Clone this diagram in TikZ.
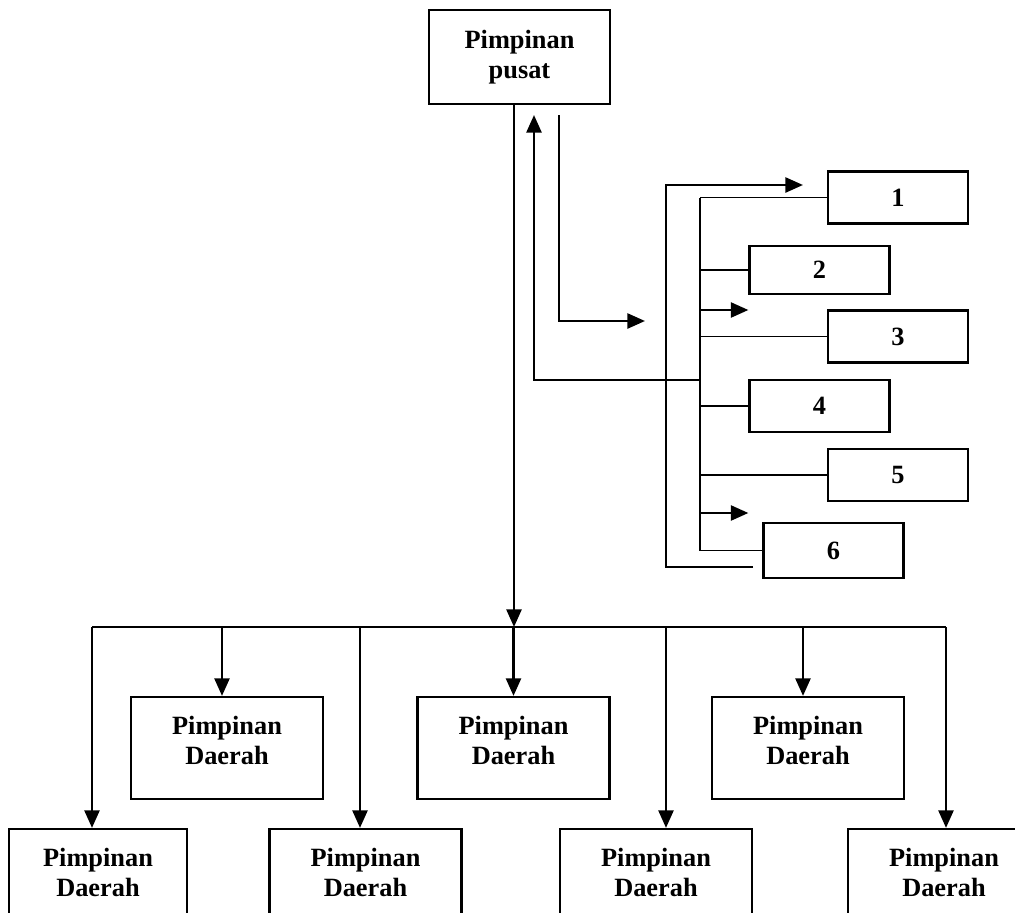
\documentclass[tikz,border=0pt]{standalone}
\usepackage{fontspec}
\setmainfont{Liberation Serif}
\usetikzlibrary{arrows.meta, positioning}

\newcommand{\daerah}{Pimpinan\\Daerah\\[-8pt]}

\begin{document}
\begin{tikzpicture}[
        x=0.02cm, y=-0.02cm,
        unit/.style={draw, line width=1.25pt, minimum width=3.84cm, minimum height=2.04cm, align=center, inner sep=0pt, font=\fontsize{15}{17}\selectfont\bfseries},
        num/.style={draw, line width=1.25pt, minimum width=2.8cm, minimum height=1.04cm, inner sep=0pt, font=\fontsize{15}{17}\selectfont\bfseries},
        arrow/.style={-{Triangle[length=10pt,width=8.5pt]}, line width=1.5pt},
        link/.style={line width=1.1pt}
    ]
        \useasboundingbox (0,0) rectangle (1015,913);
        \clip (0,0) rectangle (1015,913);

        % Central office
        \node[unit, minimum width=3.62cm, minimum height=1.88cm] (pusat) at (519.5,57) {Pimpinan\\pusat};

        % Numbered units
        \node[num] (n1) at (898,197.5) {1};
        \node[num, minimum height=0.96cm] (n2) at (819.5,270) {2};
        \node[num] (n3) at (898,336.5) {3};
        \node[num] (n4) at (819.5,406) {4};
        \node[num] (n5) at (898,475) {5};
        \node[num, minimum height=1.1cm] (n6) at (833.5,550.5) {6};

        % Regional offices
        \node[unit] (dA) at (227,748) {\daerah};
        \node[unit] (dB) at (513.5,748) {\daerah};
        \node[unit] (dC) at (808,748) {\daerah};
        \node[unit, minimum width=3.56cm] (dD) at (98,880) {\daerah};
        \node[unit] (dE) at (365.5,880) {\daerah};
        \node[unit] (dF) at (656,880) {\daerah};
        \node[unit] (dG) at (944,880) {\daerah};

        % Junction points
        \coordinate (itop) at (700,197.5);
        \coordinate (ibot) at (700,550.5);
        \coordinate (s1) at (700,310);
        \coordinate (s2) at (700,513);
        \coordinate (fb) at (700,380);
        \coordinate (upTip) at (534,115);
        \coordinate (dnTop) at (559,115);
        \coordinate (dnTip) at (645,321);
        \coordinate (loopEnd) at (753,567);
        \coordinate (loopCorner) at (666,185);
        \coordinate (loopTip) at (803,185);
        \coordinate (busL) at (92,627);
        \coordinate (busR) at (946,627);

        % Spine of the numbered units
        \draw[link] (itop) -- (ibot);
        \foreach \n in {n1,n2,n3,n4,n5,n6}
            \draw[link] (\n.west) -- (\n.west -| itop);
        \draw[arrow] (s1) -- (s1 -| n2.west);
        \draw[arrow] (s2) -- (s2 -| n2.west);

        % Loops with the central office
        \draw[arrow] (fb) -| (upTip);
        \draw[arrow] (dnTop) |- (dnTip);
        \draw[arrow] (loopEnd) -| (loopCorner) -- (loopTip);

        % Down to the regions
        \draw[arrow] ([xshift=-0.11cm]pusat.south) -- ([xshift=-0.11cm]pusat.south |- busL);
        \draw[line width=1.5pt] (busL) -- (busR);
        \draw[arrow] (busL) -- (busL |- dD.north);
        \draw[arrow] ([xshift=-0.1cm]dA.north |- busL) -- ([xshift=-0.1cm]dA.north);
        \draw[arrow] (dB.north |- busL) -- (dB.north);
        \draw[arrow] ([xshift=-0.1cm]dC.north |- busL) -- ([xshift=-0.1cm]dC.north);
        \draw[arrow] ([xshift=-0.11cm]dE.north |- busL) -- ([xshift=-0.11cm]dE.north);
        \draw[arrow] ([xshift=0.2cm]dF.north |- busL) -- ([xshift=0.2cm]dF.north);
        \draw[arrow] (busR) -- (busR |- dG.north);
    \end{tikzpicture}
\end{document}
